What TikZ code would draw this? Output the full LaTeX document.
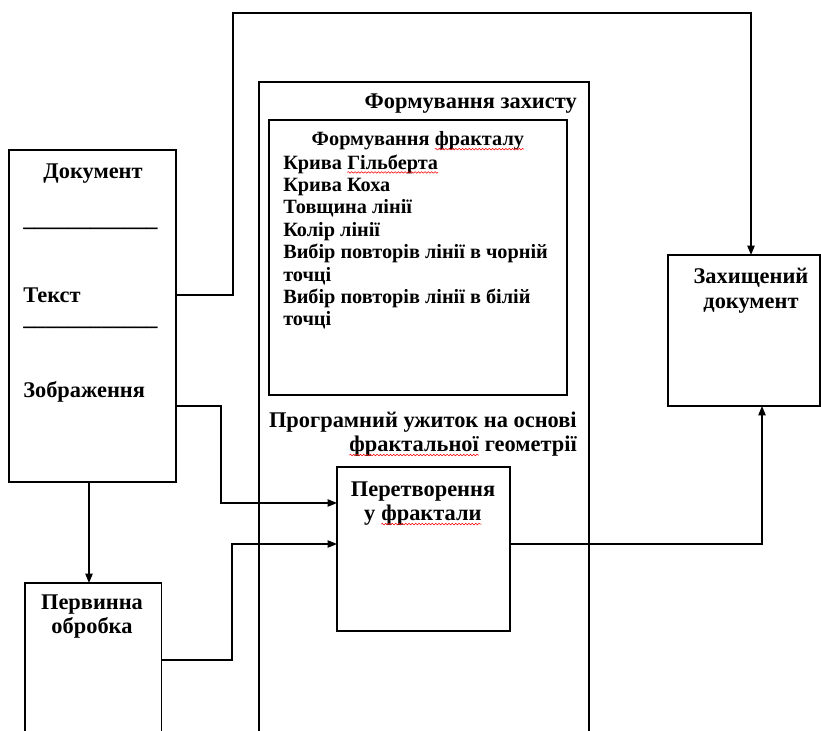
\documentclass[tikz,border=0pt]{standalone}
\usepackage{fontspec}
\setmainfont{Liberation Serif}
\usetikzlibrary{calc}
\usetikzlibrary{arrows.meta}
\usetikzlibrary{decorations.pathmorphing}

\newcommand{\redwave}[1]{\tikz[baseline=(w.base)]{\node[inner sep=0pt,outer sep=0pt] (w) {#1};
  \draw[red,line width=0.4pt,decorate,decoration={snake,amplitude=0.6pt,segment length=2.5pt}]
  ([yshift=-2.5pt]w.base west) -- ([yshift=-2.5pt]w.base east);}}

\begin{document}
\begin{tikzpicture}[x=0.75pt,y=-0.75pt]
\tikzset{>={Triangle[length=7pt,width=5.5pt]}}
\tikzset{blok/.style={draw,line width=0.9pt,inner sep=0pt,outer sep=0pt}}
\tikzset{txt/.style={inner sep=0pt,font=\fontsize{16.8}{18.5}\selectfont\bfseries}}
\tikzset{txtsm/.style={inner sep=0pt,font=\fontsize{15.2}{16.8}\selectfont\bfseries}}

\clip (0,0) rectangle (821,731);

\node[blok,minimum width=125.25pt,minimum height=249pt] (doc) at (92.5,316) {};
\node[blok,minimum width=102.4pt,minimum height=132.75pt] (perv) at (93.25,671.5) {};
\node[blok,minimum width=247.5pt,minimum height=508.5pt] (zahyst) at (424,421) {};
\node[blok,minimum width=223.5pt,minimum height=206.25pt] (fract) at (418,257.5) {};
\node[blok,minimum width=129.75pt,minimum height=123pt] (trans) at (423.5,549) {};
\node[blok,minimum width=114pt,minimum height=113.25pt] (zah) at (744,330.5) {};

\node[txt] (doc-t) at (93,174) {Документ};
\node[txt,anchor=base west] (rule1) at (23,227) {\_\_\_\_\_\_\_\_\_\_\_\_};
\node[txt,anchor=west] (tekst) at (23,295) {Текст};
\node[txt,anchor=base west] (rule2) at (23,325) {\_\_\_\_\_\_\_\_\_\_\_\_};
\node[txt,anchor=west] (zobr) at (23,392) {Зображення};

\node[txt,align=center] (perv-t) at (92,616.5) {Первинна\\обробка};
\node[txt,anchor=east] (zahyst-t) at (577,104) {Формування захисту};
\node[txtsm] (fract-t) at (418,141) {Формування \redwave{фракталу}};
\node[txtsm,anchor=west,align=left] (fract-l) at (283,242)
  {Крива \redwave{Гільберта}\\Крива Коха\\Товщина лінії\\Колір лінії\\Вибір повторів лінії в чорній\\точці\\Вибір повторів лінії в білій\\точці};
\node[txt,anchor=east,align=right] (prog-t) at (577,434) {Програмний ужиток на основі\\\redwave{фрактальної} геометрії};
\node[txt,align=center] (trans-t) at (423,503.5) {Перетворення\\у \redwave{фрактали}};
\node[txt,align=center] (zah-t) at (751,290.5) {Захищений\\документ};

\draw[->,line width=0.9pt] (doc.east |- tekst) -| (233,13) -| ($(zah.north)+(7,0)$);
\draw[->,line width=0.9pt] (doc.east |- 0,406) -| (221,503) -- (trans.west |- 0,503);
\draw[->,line width=0.9pt] ($(doc.south)+(-3.5,0)$) -- ($(doc.south |- perv.north)+(-3.5,0)$);
\draw[->,line width=0.9pt] (perv.east |- 0,660) -| (232,544) -- (trans.west |- 0,544);
\draw[->,line width=0.9pt] (trans.east |- 0,544) -| ($(zah.south)+(18,0)$);

\end{tikzpicture}
\end{document}
